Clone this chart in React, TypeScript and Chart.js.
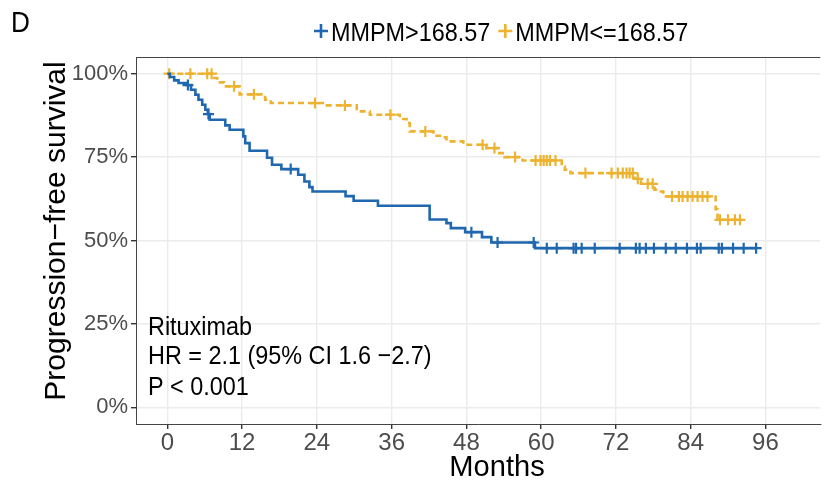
import React, { useEffect, useRef } from "react";
import { Chart, registerables } from "chart.js";

Chart.register(...registerables);

// Axis breaks
const xTicks = [0, 12, 24, 36, 48, 60, 72, 84, 96];
const yTicks = [0, 0.25, 0.5, 0.75, 1];

// Kaplan–Meier step curve, MMPM>168.57 (event times in months, survival after each event)
const highTimes = [0, 0.4, 1.1, 1.8, 3.0, 3.8, 4.5, 5.0, 5.6, 6.1, 6.5, 6.8, 9.3, 10.0, 12.2, 12.5, 13.2, 16.0, 16.8, 18.3, 21.0, 22.0, 22.8, 23.3, 28.6, 29.9, 33.8, 42.1, 44.8, 45.5, 47.8, 50.5, 52.0, 59.0];
const highSurv = [1, 0.99, 0.98, 0.972, 0.966, 0.952, 0.937, 0.922, 0.907, 0.892, 0.879, 0.862, 0.845, 0.832, 0.812, 0.792, 0.769, 0.748, 0.727, 0.714, 0.697, 0.677, 0.66, 0.647, 0.633, 0.619, 0.604, 0.563, 0.552, 0.537, 0.525, 0.51, 0.494, 0.477];
const highCensor = [3.3, 6.6, 19.8, 48.8, 53.0, 58.8, 60.9, 62.5, 65.2, 65.6, 66.5, 68.6, 72.6, 75.2, 75.8, 76.8, 78.1, 80.0, 81.6, 83.4, 85.0, 85.6, 88.5, 89.0, 90.8, 92.5, 94.5];

// Kaplan–Meier step curve, MMPM<=168.57
const lowTimes = [0, 7.2, 8.0, 9.1, 11.6, 15.7, 16.6, 25.3, 30.4, 32.5, 37.3, 38.4, 38.9, 42.7, 44.2, 44.8, 47.5, 51.2, 53.0, 54.1, 57.0, 63.3, 63.8, 64.7, 75.0, 76.0, 78.2, 78.9, 79.6, 88.0, 88.3];
const lowSurv = [1, 0.987, 0.974, 0.962, 0.938, 0.922, 0.912, 0.905, 0.887, 0.877, 0.864, 0.852, 0.827, 0.814, 0.809, 0.797, 0.787, 0.777, 0.762, 0.75, 0.74, 0.722, 0.712, 0.702, 0.685, 0.67, 0.652, 0.647, 0.632, 0.594, 0.562];
const lowCensor = [0.3, 3.7, 6.4, 7.1, 10.7, 13.9, 23.7, 28.5, 35.8, 41.4, 50.6, 52.5, 55.8, 59.1, 59.9, 60.4, 60.9, 61.4, 62.3, 67.1, 71.3, 72.3, 73.1, 73.7, 74.2, 74.7, 75.5, 77.1, 77.9, 81.0, 82.1, 82.7, 83.5, 84.3, 85.1, 85.9, 86.7, 88.7, 90.0, 91.1, 91.9];

const seriesNames = ["MMPM>168.57", "MMPM<=168.57"];
const annotationLines = ["Rituximab", "HR = 2.1 (95% CI 1.6 \u22122.7)", "P < 0.001"];

const BLUE = "#1f67ae";
const GOLD = "#edb330";
const FONT = '"Liberation Sans", Arial, sans-serif';
const NARROW = '"Liberation Sans Narrow", "Liberation Sans", Arial, sans-serif';

// value of a right-continuous step function at time t
function stepAt(times: number[], surv: number[], t: number) {
  let s = surv[0];
  for (let i = 0; i < times.length; i++) {
    if (times[i] <= t) s = surv[i];
  }
  return s;
}

function curvePoints(times: number[], surv: number[], censor: number[]) {
  const pts = times.map((t, i) => ({ x: t, y: surv[i] }));
  const last = censor[censor.length - 1];
  pts.push({ x: last, y: stepAt(times, surv, last) });
  return pts;
}

function censorPoints(times: number[], surv: number[], censor: number[]) {
  return censor.map((t) => ({ x: t, y: stepAt(times, surv, t) }));
}

function squeezedText(ctx: CanvasRenderingContext2D, text: string, x: number, y: number, align: CanvasTextAlign, sx: number) {
  ctx.save();
  ctx.translate(x, y);
  ctx.scale(sx, 1);
  ctx.textAlign = align;
  ctx.fillText(text, 0, 0);
  ctx.restore();
}

function drawPlus(ctx: CanvasRenderingContext2D, x: number, y: number, r: number, color: string) {
  ctx.save();
  ctx.strokeStyle = color;
  ctx.lineWidth = 2.6;
  ctx.beginPath();
  ctx.moveTo(x - r, y);
  ctx.lineTo(x + r, y);
  ctx.moveTo(x, y - r);
  ctx.lineTo(x, y + r);
  ctx.stroke();
  ctx.restore();
}

const decorations = {
  id: "decorations",
  afterDraw(chart: any) {
    const { ctx, chartArea } = chart;
    ctx.save();
    // top edge of the panel
    ctx.strokeStyle = "#444";
    ctx.lineWidth = 1;
    ctx.beginPath();
    ctx.moveTo(chartArea.left, chartArea.top + 0.5);
    ctx.lineTo(chartArea.right, chartArea.top + 0.5);
    ctx.stroke();

    ctx.fillStyle = "#000";
    ctx.textBaseline = "alphabetic";

    // panel letter
    ctx.font = `29px ${FONT}`;
    squeezedText(ctx, "D", 11, 32, "left", 0.9);

    // legend
    const legendSqueeze = 0.9;
    ctx.font = `26px ${FONT}`;
    const colors = [BLUE, GOLD];
    let lx = 314;
    seriesNames.forEach((name, i) => {
      drawPlus(ctx, lx + 7, 31, 7, colors[i]);
      ctx.fillStyle = "#000";
      squeezedText(ctx, name, lx + 17, 41, "left", legendSqueeze);
      lx += 17 + ctx.measureText(name).width * legendSqueeze + 8;
    });

    // statistics annotation
    ctx.font = `26px ${FONT}`;
    const baselines = [335, 364, 395];
    annotationLines.forEach((line, i) => squeezedText(ctx, line, 148, baselines[i], "left", 0.9));

    // axis titles
    ctx.font = `30px ${FONT}`;
    squeezedText(ctx, "Months", 497, 476, "center", 0.97);

    ctx.save();
    ctx.translate(65, 231);
    ctx.rotate(-Math.PI / 2);
    ctx.font = `30px ${FONT}`;
    ctx.textAlign = "center";
    ctx.fillText("Progression\u2212free survival", 0, 0);
    ctx.restore();

    ctx.restore();
  },
};

export default function App() {
  const ref = useRef<HTMLCanvasElement>(null);

  useEffect(() => {
    if (!ref.current) return;
    const chart = new Chart(ref.current, {
      type: "scatter",
      data: {
        datasets: [
          {
            label: seriesNames[0],
            data: curvePoints(highTimes, highSurv, highCensor),
            showLine: true,
            stepped: "before",
            borderColor: BLUE,
            borderWidth: 2.6,
            pointRadius: 0,
            fill: false,
          },
          {
            label: seriesNames[1],
            data: curvePoints(lowTimes, lowSurv, lowCensor),
            showLine: true,
            stepped: "before",
            borderColor: GOLD,
            borderWidth: 2.6,
            borderDash: [6, 4],
            pointRadius: 0,
            fill: false,
          },
          {
            label: seriesNames[0] + " censored",
            data: censorPoints(highTimes, highSurv, highCensor),
            showLine: false,
            pointStyle: "cross",
            pointRadius: 5.5,
            borderColor: BLUE,
            borderWidth: 2.2,
          },
          {
            label: seriesNames[1] + " censored",
            data: censorPoints(lowTimes, lowSurv, lowCensor),
            showLine: false,
            pointStyle: "cross",
            pointRadius: 5.5,
            borderColor: GOLD,
            borderWidth: 2.2,
          },
        ],
      } as any,
      options: {
        responsive: false,
        animation: false,
        devicePixelRatio: 1,
        layout: { padding: { top: 57, right: 0, left: 0, bottom: 0 } },
        plugins: { legend: { display: false }, tooltip: { enabled: false } },
        scales: {
          x: {
            type: "linear",
            min: -5.03,
            max: 104.8,
            afterBuildTicks: (s: any) => {
              s.ticks = xTicks.map((v) => ({ value: v }));
            },
            afterFit: (s: any) => {
              s.height = 56;
            },
            grid: { color: "#ebebeb", lineWidth: 1.4, tickColor: "#333", tickLength: 5 },
            border: { display: true, color: "#444", width: 1 },
            ticks: {
              color: "#4d4d4d",
              font: { size: 24, family: NARROW },
              padding: 0,
              maxRotation: 0,
              autoSkip: false,
            },
          },
          y: {
            type: "linear",
            min: -0.05,
            max: 1.05,
            afterBuildTicks: (s: any) => {
              s.ticks = yTicks.map((v) => ({ value: v }));
            },
            afterFit: (s: any) => {
              s.width = 136;
            },
            grid: { color: "#ebebeb", lineWidth: 1.4, tickColor: "#333", tickLength: 5 },
            border: { display: true, color: "#444", width: 1 },
            ticks: {
              color: "#4d4d4d",
              font: { size: 22, family: NARROW },
              padding: 3,
              callback: (v: any) => `${Math.round(Number(v) * 100)}%`,
            },
          },
        },
      } as any,
      plugins: [decorations],
    });
    return () => chart.destroy();
  }, []);

  return (
    <div style={{ position: "fixed", left: 0, top: 0, width: 828, height: 480, background: "#fff" }}>
      <canvas ref={ref} width={828} height={480} style={{ display: "block" }} />
    </div>
  );
}
